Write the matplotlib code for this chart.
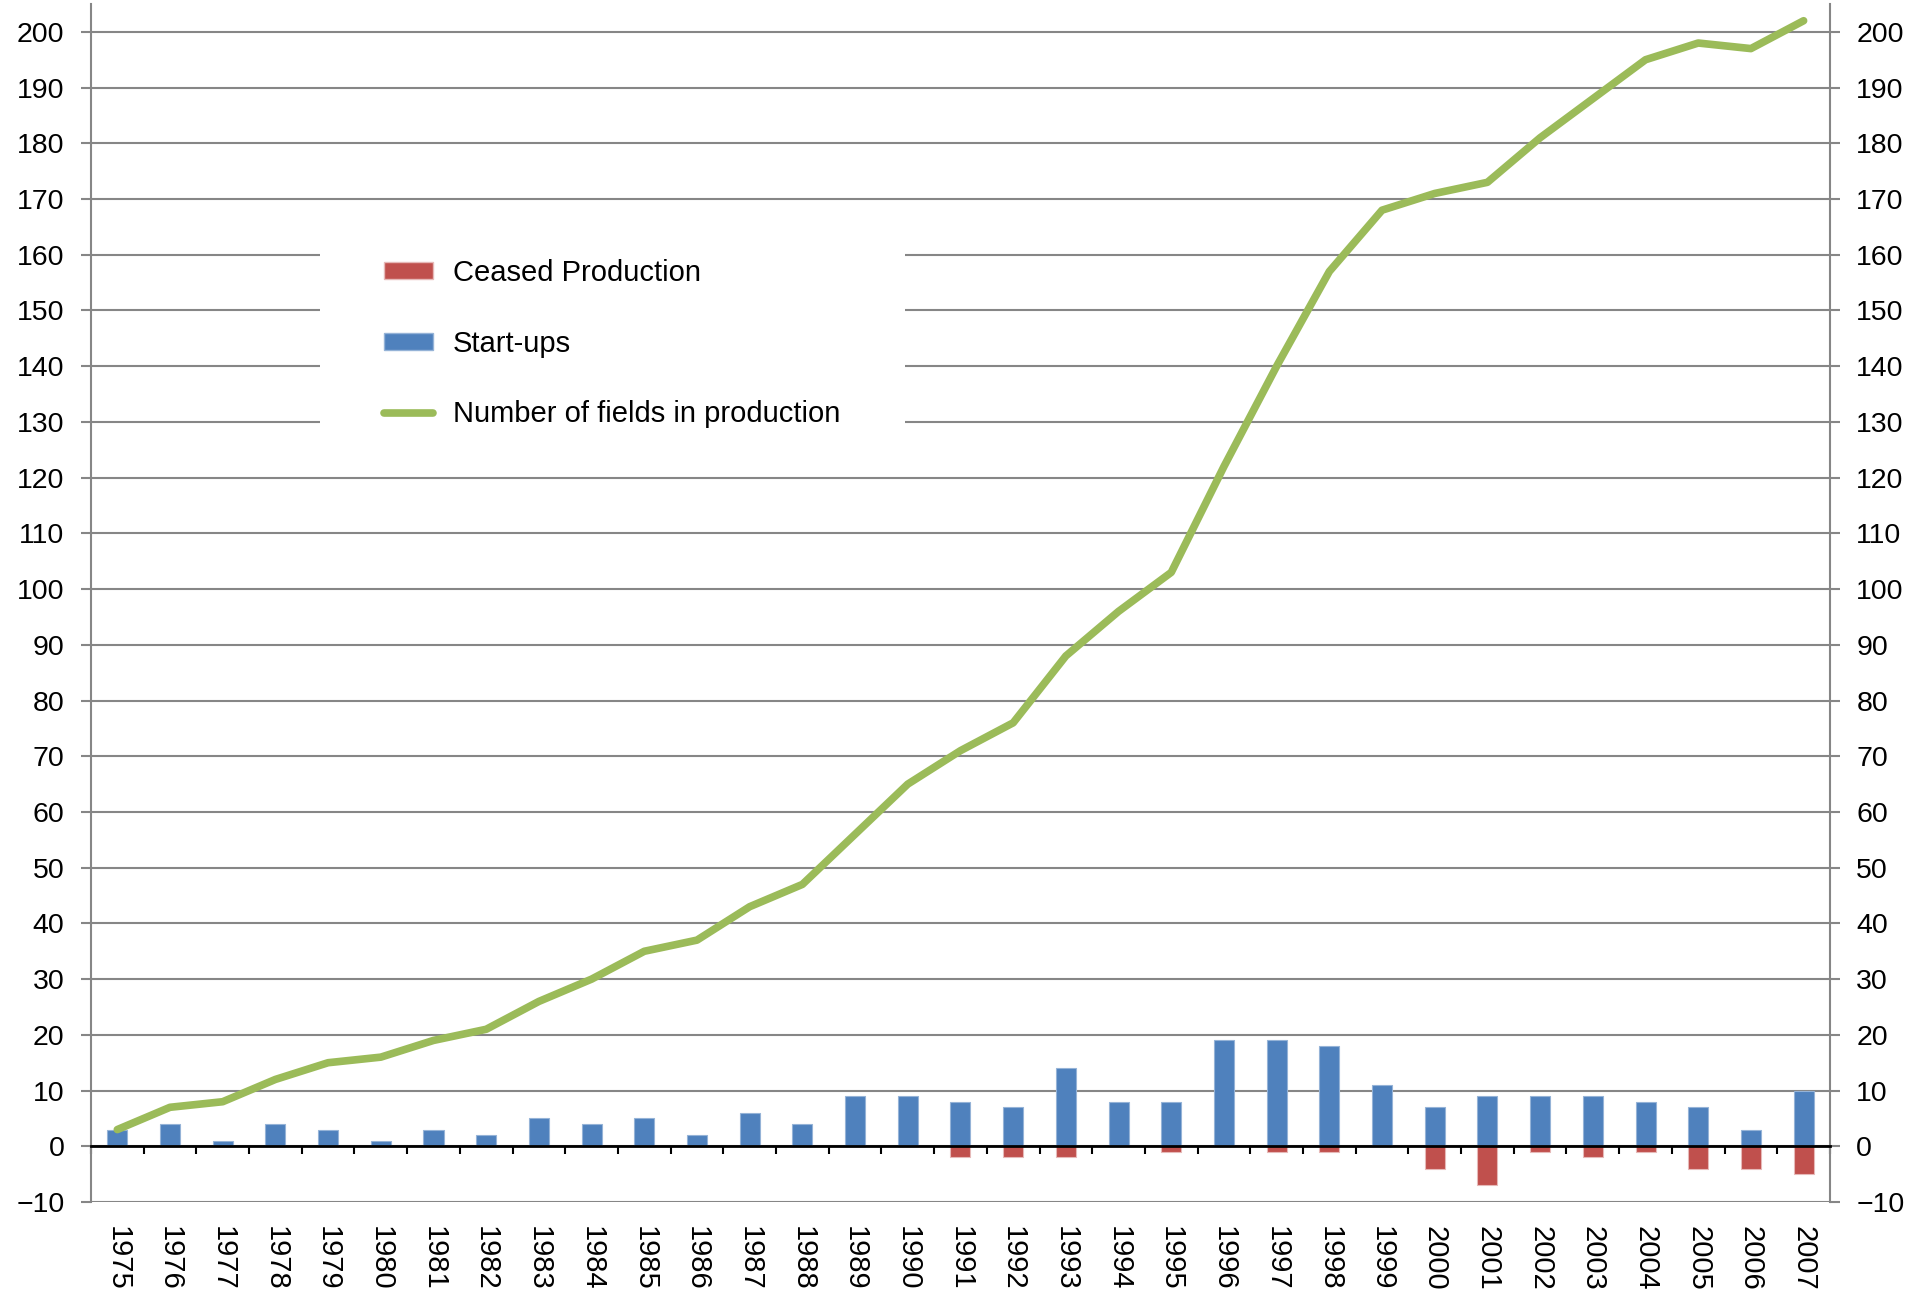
import numpy as np
import matplotlib
matplotlib.use("Agg")
import matplotlib.pyplot as plt
from matplotlib.patches import Rectangle
from matplotlib.lines import Line2D
from matplotlib.patches import Patch

plt.rcParams['font.family'] = ['Liberation Sans', 'DejaVu Sans']

# data
years = [str(y) for y in range(1975, 2008)]
startups = [3, 4, 1, 4, 3, 1, 3, 2, 5, 4, 5, 2, 6, 4, 9, 9, 8, 7, 14, 8, 8,
            19, 19, 18, 11, 7, 9, 9, 9, 8, 7, 3, 10]
ceased = [0, 0, 0, 0, 0, 0, 0, 0, 0, 0, 0, 0, 0, 0, 0, 0, -2, -2, -2, 0, -1,
          0, -1, -1, 0, -4, -7, -1, -2, -1, -4, -4, -5]
in_production = [3, 7, 8, 12, 15, 16, 19, 21, 26, 30, 35, 37, 43, 47, 56, 65,
                 71, 76, 88, 96, 103, 122, 140, 157, 168, 171, 173, 181, 188,
                 195, 198, 197, 202]
y_ticks = list(range(-10, 201, 10))

blue = '#4F81BD'
red = '#C0504D'
green = '#9BBB59'
grid_col = '#868686'

fig = plt.figure(figsize=(19.07, 12.95), dpi=100)
ax = fig.add_axes([0.0477, 0.0718, 0.9119, 0.9251])

x = np.arange(len(years))
ax.bar(x, startups, width=0.38, color=blue, edgecolor='#95B3D7', linewidth=0.8, zorder=2)
ax.bar(x, ceased, width=0.38, color=red, edgecolor='#E6B9B8', linewidth=0.8, zorder=2)
ax.plot(x, in_production, color=green, linewidth=5.5, solid_capstyle='round', zorder=3)

ax.set_xlim(-0.5, len(years) - 0.5)
ax.set_ylim(-10, 205)
ax.set_yticks(y_ticks)
ax.yaxis.grid(True, color=grid_col, linewidth=1.5, zorder=0)
ax.set_axisbelow(True)
ax.tick_params(axis='y', which='both', left=True, right=True, labelleft=True,
               labelright=True, direction='out', length=7, width=1.5,
               color=grid_col, labelsize=20.5, pad=12)

ax.spines['top'].set_visible(False)
for s in ['left', 'right']:
    ax.spines[s].set_color(grid_col)
    ax.spines[s].set_linewidth(1.5)

# zero line with category-boundary ticks
ax.spines['bottom'].set_position(('data', 0))
ax.spines['bottom'].set_color('black')
ax.spines['bottom'].set_linewidth(2)
ax.spines['bottom'].set_zorder(2.5)
ax.set_xticks(x)
ax.set_xticklabels([])
ax.set_xticks(np.arange(-0.5, len(years), 1), minor=True)
ax.tick_params(axis='x', which='major', length=0)
ax.tick_params(axis='x', which='minor', direction='out', length=6, width=1.5, color='black')

# year labels at the bottom of the plot area
secax = ax.secondary_xaxis('bottom')
secax.set_xticks(x)
secax.set_xticklabels(years, rotation=270)
secax.tick_params(length=0, labelsize=21, pad=17)
secax.spines['bottom'].set_visible(False)

# white box behind the legend
box = Rectangle((0.1678, 0.652), 0.3067, 0.171, transform=fig.transFigure,
                facecolor='white', edgecolor='none', zorder=1)
ax.add_patch(box)

handles = [Patch(facecolor=red, edgecolor='#E6B9B8'),
           Patch(facecolor=blue, edgecolor='#95B3D7'),
           Line2D([0], [0], color=green, linewidth=5.5, solid_capstyle='round')]
labels = ['Ceased Production', 'Start-ups', 'Number of fields in production']
leg = ax.legend(handles, labels, loc='upper left', bbox_to_anchor=(0.1935, 0.8115),
                bbox_transform=fig.transFigure, frameon=False, fontsize=21,
                handlelength=1.7, handleheight=0.5, handletextpad=0.68,
                labelspacing=1.47, borderpad=0)
leg.set_zorder(5)

fig.savefig('out.png', dpi=100)
